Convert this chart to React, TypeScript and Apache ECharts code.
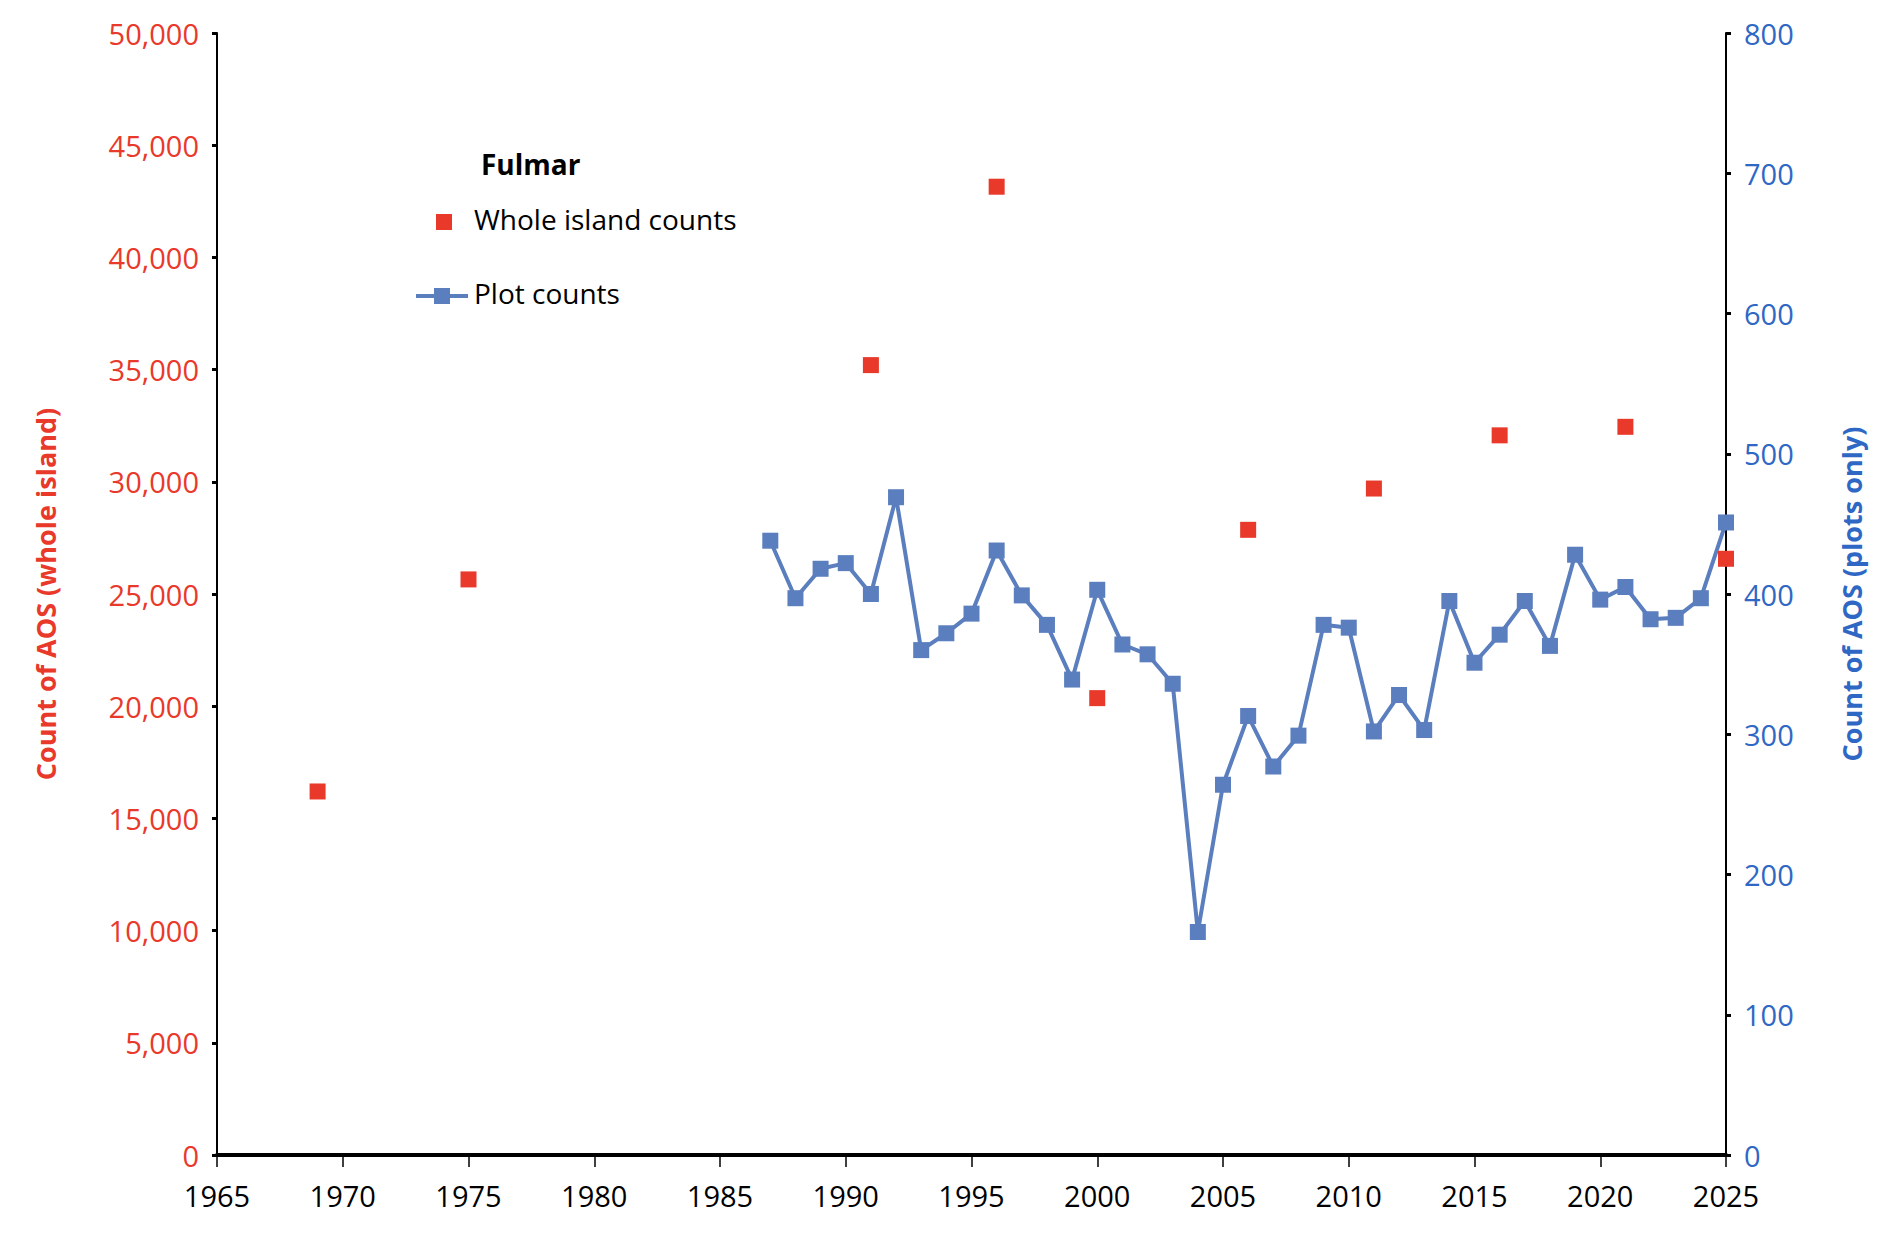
import React, { useEffect, useRef } from 'react';
import * as echarts from 'echarts';

const WHOLE_YEARS = [1969, 1975, 1991, 1996, 2000, 2006, 2011, 2016, 2021, 2025];
const WHOLE_COUNTS = [16200, 25650, 35200, 43150, 20360, 27860, 29700, 32070, 32450, 26570];

const PLOT_YEARS = [
  1987, 1988, 1989, 1990, 1991, 1992, 1993, 1994, 1995, 1996, 1997, 1998, 1999, 2000,
  2001, 2002, 2003, 2004, 2005, 2006, 2007, 2008, 2009, 2010, 2011, 2012, 2013, 2014,
  2015, 2016, 2017, 2018, 2019, 2020, 2021, 2022, 2023, 2024, 2025,
];
const PLOT_COUNTS = [
  438, 397, 418, 422, 400, 469, 360, 372, 386, 431, 399, 378, 339, 403,
  364, 357, 336, 159, 264, 313, 277, 299, 378, 376, 302, 328, 303, 395,
  351, 371, 395, 363, 428, 396, 405, 382, 383, 397, 451,
];

const RED = '#E8392B';
const BLUE_TXT = '#2F68C4';
const BLUE = '#5A7EBE';
const FONT = '"Open Sans", "Noto Sans", sans-serif';

export default function App() {
  const ref = useRef<HTMLDivElement>(null);

  useEffect(() => {
    document.body.style.margin = '0';
    if (!ref.current) return;
    const chart = echarts.init(ref.current, undefined, { renderer: 'svg' });
    chart.setOption({
      animation: false,
      textStyle: { fontFamily: FONT },
      grid: { left: 217, right: 174, top: 33, bottom: 83 },
      xAxis: {
        type: 'value',
        min: 1965,
        max: 2025,
        interval: 5,
        splitLine: { show: false },
        axisLine: { onZero: false, lineStyle: { color: '#000', width: 4 } },
        axisTick: { show: true, length: 12, lineStyle: { color: '#000', width: 1.5 } },
        axisLabel: { color: '#000', fontSize: 29, margin: 26, formatter: (v: number) => String(v) },
      },
      yAxis: [
        {
          type: 'value',
          min: 0,
          max: 50000,
          interval: 5000,
          position: 'left',
          splitLine: { show: false },
          axisLine: { show: true, lineStyle: { color: '#000', width: 2 } },
          axisTick: { show: true, length: 5, lineStyle: { color: '#000', width: 3 } },
          axisLabel: {
            color: RED,
            fontSize: 29,
            margin: 18,
            formatter: (v: number) => v.toLocaleString('en-US'),
          },
          name: 'Count of AOS (whole island)',
          nameLocation: 'middle',
          nameGap: 158,
          nameTextStyle: { color: RED, fontSize: 27, fontWeight: 'bold' },
        },
        {
          type: 'value',
          min: 0,
          max: 800,
          interval: 100,
          position: 'right',
          splitLine: { show: false },
          axisLine: { show: true, lineStyle: { color: '#000', width: 2 } },
          axisTick: { show: true, length: 5, lineStyle: { color: '#000', width: 3 } },
          axisLabel: { color: BLUE_TXT, fontSize: 29, margin: 18 },
          name: 'Count of AOS (plots only)',
          nameLocation: 'middle',
          nameGap: 112,
          nameRotate: 90,
          nameTextStyle: { color: BLUE_TXT, fontSize: 27, fontWeight: 'bold' },
        },
      ],
      series: [
        {
          type: 'scatter',
          yAxisIndex: 0,
          symbol: 'rect',
          symbolSize: 16,
          itemStyle: { color: RED, opacity: 1 },
          data: WHOLE_YEARS.map((y, i) => [y, WHOLE_COUNTS[i]]),
          z: 3,
        },
        {
          type: 'line',
          yAxisIndex: 1,
          symbol: 'rect',
          symbolSize: 16,
          showAllSymbol: true,
          lineStyle: { color: BLUE, width: 4 },
          itemStyle: { color: BLUE },
          data: PLOT_YEARS.map((y, i) => [y, PLOT_COUNTS[i]]),
          z: 2,
        },
      ],
      graphic: [
        {
          type: 'text',
          left: 481,
          top: 150,
          style: { text: 'Fulmar', font: `bold 28px ${FONT}`, fill: '#000' },
        },
        { type: 'rect', shape: { x: 436, y: 214, width: 16, height: 16 }, style: { fill: RED } },
        {
          type: 'text',
          left: 474,
          top: 205,
          style: { text: 'Whole island counts', font: `28px ${FONT}`, fill: '#000' },
        },
        {
          type: 'line',
          shape: { x1: 416, y1: 296, x2: 468, y2: 296 },
          style: { stroke: BLUE, lineWidth: 4 },
        },
        { type: 'rect', shape: { x: 434, y: 288, width: 16, height: 16 }, style: { fill: BLUE } },
        {
          type: 'text',
          left: 474,
          top: 279,
          style: { text: 'Plot counts', font: `28px ${FONT}`, fill: '#000' },
        },
      ],
    });
    return () => chart.dispose();
  }, []);

  return <div ref={ref} style={{ width: 1900, height: 1238 }} />;
}
